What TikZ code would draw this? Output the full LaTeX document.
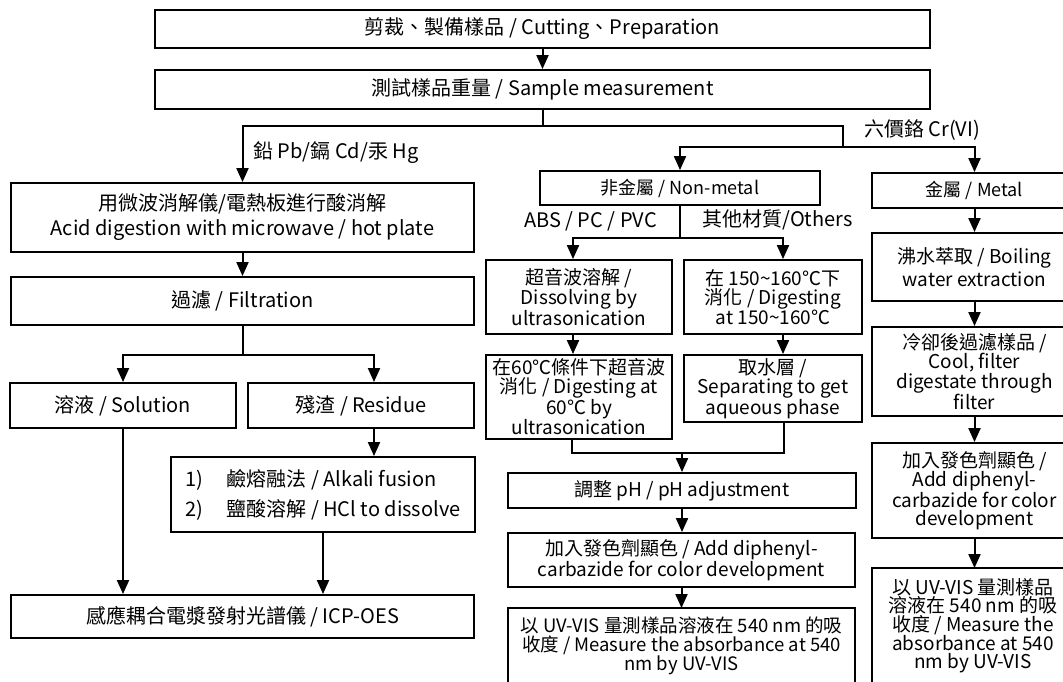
\documentclass[tikz,border=0pt]{standalone}
\usepackage{fontspec}
\setmainfont{Noto Sans CJK TC}
\usetikzlibrary{arrows.meta}
\tikzset{
  box/.style={draw, line width=1.9pt, inner sep=0pt, align=center},
  frame/.style={line width=1.9pt},
  arr/.style={line width=2pt, -{Triangle[length=14pt,width=12pt]}},
  ln/.style={line width=2pt},
  fbig/.style={font=\fontsize{20}{25}\selectfont},
  flab/.style={font=\fontsize{20}{24}\selectfont, inner sep=0pt},
  fmid/.style={font=\fontsize{19}{#1}\selectfont},
}
\begin{document}
\begin{tikzpicture}[x=1pt,y=-1pt]
\useasboundingbox (0,0) rectangle (1063,681);
\fill[white] (0,0) rectangle (1063,681);
\clip (0,0) rectangle (1063,681);

% top
\node[box, fbig, minimum width=775pt, minimum height=38pt] (n1) at (542.5,29) {剪裁、製備樣品 / Cutting、Preparation};
\node[box, fbig, minimum width=775pt, minimum height=39pt] (n2) at (542.5,89.5) {測試樣品重量 / Sample measurement};
\draw[arr] (n1) -- (n2);

% left column
\node[box, fbig, minimum width=463pt, minimum height=69pt] (acid) at (242.5,217.5) {用微波消解儀/電熱板進行酸消解\\Acid digestion with microwave / hot plate};
\node[box, fbig, minimum width=463pt, minimum height=48pt] (filt) at (242.5,301) {過濾 / Filtration};
\node[box, fbig, minimum width=226pt, minimum height=45pt] (sol) at (123,405.5) {溶液 / Solution};
\node[box, fbig, minimum width=226pt, minimum height=45pt] (res) at (361,405.5) {殘渣 / Residue};
\node[box, font=\fontsize{20}{30}\selectfont, align=left, minimum width=304pt, minimum height=75pt] (alk) at (323,494.5)
  {\makebox[41pt][l]{1)}鹼熔融法 / Alkali fusion\\\makebox[41pt][l]{2)}鹽酸溶解 / HCl to dissolve};
\node[box, fbig, minimum width=463pt, minimum height=43pt] (icp) at (242.5,616.5) {感應耦合電漿發射光譜儀 / ICP-OES};

% middle column
\node[box, font=\fontsize{18}{22}\selectfont, minimum width=280pt, minimum height=34pt] (nm) at (680,188) {非金屬 / Non-metal};
\node[box, fmid=19.5, minimum width=186pt, minimum height=74pt] (us1) at (579,297) {超音波溶解 /\\Dissolving by\\ultrasonication};
\node[box, fmid=19.5, minimum width=178pt, minimum height=74pt] (ot1) at (773,297) {在 150\textasciitilde160℃下\\消化 / Digesting\\at 150\textasciitilde160℃};
\node[box, fmid=16.8, minimum width=186pt, minimum height=84pt] (us2) at (579,397) {在60℃條件下超音波\\消化 / Digesting at\\60℃ by\\ultrasonication};
\node[box, fmid=17.5, minimum width=178pt, minimum height=67pt] (ot2) at (773,388.5) {取水層 /\\Separating to get\\aqueous phase};
\node[box, fmid=22, minimum width=348pt, minimum height=35pt] (ph) at (682,490.5) {調整 pH / pH adjustment};
\node[box, fmid=16, minimum width=347pt, minimum height=54pt] (add) at (681.5,560) {加入發色劑顯色 / Add diphenyl-\\carbazide for color development};
\node[align=center, inner sep=0pt, font=\fontsize{18.5}{19}\selectfont] (uv) at (681.5,646) {以 UV-VIS 量測樣品溶液在 540 nm 的吸\\收度 / Measure the absorbance at 540\\nm by UV-VIS};
\coordinate (uvtop) at (681.5,608);
\draw[frame] (508,700) |- (855,608) -- (855,700);

% right column
\node[box, font=\fontsize{18}{22}\selectfont, minimum width=205pt, minimum height=35pt] (mt) at (974.5,190.5) {金屬 / Metal};
\node[box, fmid=23, minimum width=205pt, minimum height=68pt] (boil) at (974.5,267) {沸水萃取 / Boiling\\water extraction};
\node[box, fmid=16.7, minimum width=205pt, minimum height=89pt] (cool) at (974.5,371.5) {冷卻後過濾樣品 /\\Cool, filter\\digestate through\\filter};
\node[box, fmid=18.3, minimum width=205pt, minimum height=95pt] (add2) at (974.5,490.5) {加入發色劑顯色 /\\Add diphenyl-\\carbazide for color\\development};
\node[align=center, inner sep=0pt, font=\fontsize{19}{18.3}\selectfont] (uv2) at (973,626) {以 UV-VIS 量測樣品\\溶液在 540 nm 的吸\\收度 / Measure the\\absorbance at 540\\nm by UV-VIS};
\coordinate (uv2top) at (974.5,568);
\draw[frame] (872,700) |- (1077,568) -- (1077,700);

% labels
\node[flab, anchor=west] (lpb) at (253,153) {鉛 Pb/鎘 Cd/汞 Hg};
\node[flab, anchor=west] (lcr) at (864,130) {六價鉻 Cr(VI)};
\node[flab] (labs) at (590.5,221) {ABS / PC / PVC};
\node[flab] (loth) at (777.5,220) {其他材質/Others};

% connectors
\coordinate (j1) at (542.5,126);
\coordinate (jcr) at (843,147);
\draw[ln] (n2.south) -- (j1);
\draw[arr] (j1) -| (acid.north);
\draw[ln] (j1) -| (jcr);
\draw[arr] (jcr) -| (nm.north);
\draw[arr] (jcr) -| (mt.north);

\draw[arr] (acid.south) -- (acid.south |- filt.north);
\coordinate (j2) at (242.5,355);
\draw[ln] (filt.south) -- (j2);
\draw[arr] (j2) -| (sol.north);
\draw[arr] (j2) -| ([xshift=13pt]res.north);
\draw[arr] ([xshift=13pt]res.south) -- ([xshift=13pt]res.south |- alk.north);
\draw[arr] (sol.south) -- (sol.south |- icp.north);
\draw[arr] (alk.south) -- (alk.south |- icp.north);

\coordinate (j3) at (680,238);
\draw[ln] (nm.south) -- (j3);
\draw[arr] (j3) -| ([xshift=-6pt]us1.north);
\draw[arr] (j3) -| ([xshift=10pt]ot1.north);
\draw[arr] ([xshift=-6pt]us1.south) -- ([xshift=-6pt]us1.south |- us2.north);
\draw[arr] ([xshift=10pt]ot1.south) -- ([xshift=10pt]ot1.south |- ot2.north);
\coordinate (j4) at (682,453);
\draw[ln] ([xshift=-7pt]us2.south) |- (j4) -| ([xshift=11pt]ot2.south);
\draw[arr] (j4) -- (ph.north);
\draw[arr] (ph.south) -- (ph.south |- add.north);
\draw[arr] (add.south) -- (uvtop);

\draw[arr] (mt) -- (boil);
\draw[arr] (boil) -- (cool);
\draw[arr] (cool) -- (add2);
\draw[arr] (add2.south) -- (uv2top);
\end{tikzpicture}
\end{document}
